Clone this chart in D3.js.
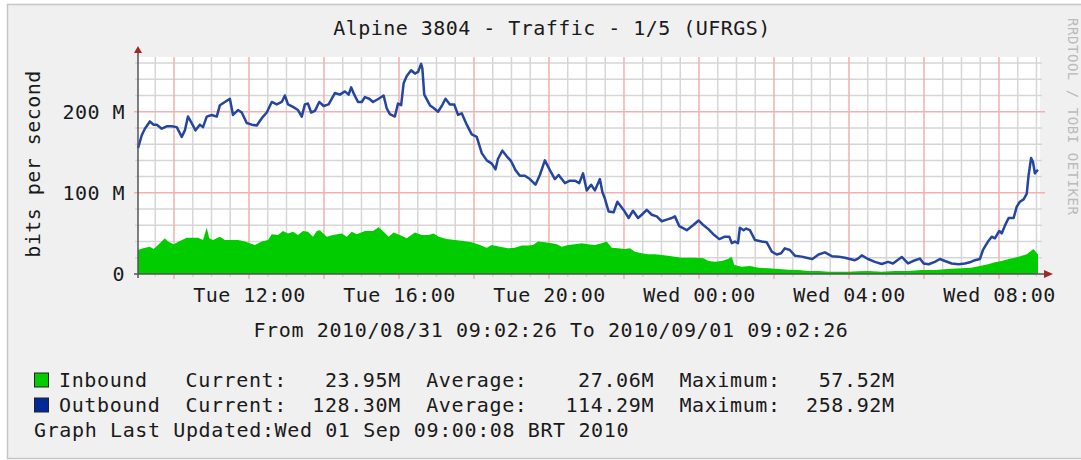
<!DOCTYPE html>
<html>
<head>
<meta charset="utf-8">
<script src="https://cdn.jsdelivr.net/npm/d3@7"></script>
<style>
  body { margin: 0; background: #fff; }
  svg text { font-family: "DejaVu Sans Mono", monospace; }
</style>
</head>
<body>
<div id="chart"></div>
<script>
// Time window of the graph
const startTime = new Date(2010, 7, 31, 9, 2, 26);
const endTime = new Date(2010, 8, 1, 9, 2, 26);

// Inbound (area), minutes after start -> Mbit/s
const inMinutes = [0, 8, 19, 25, 32, 43, 48, 57, 67, 78, 88, 96, 104, 110, 114, 120, 131, 139, 150, 160, 171, 179, 187, 198, 208, 214, 224, 232, 240, 248, 256, 264, 272, 280, 286, 291, 302, 312, 326, 334, 342, 350, 363, 376, 385, 393, 401, 409, 419, 430, 443, 454, 465, 473, 481, 494, 507, 520, 534, 547, 558, 566, 579, 592, 603, 614, 624, 632, 640, 651, 662, 670, 678, 688, 699, 710, 720, 731, 742, 750, 758, 768, 779, 787, 795, 806, 816, 827, 838, 848, 859, 870, 880, 891, 905, 913, 923, 934, 944, 950, 954, 966, 979, 993, 1009, 1025, 1041, 1057, 1073, 1089, 1105, 1121, 1137, 1152, 1168, 1190, 1211, 1232, 1254, 1275, 1296, 1317, 1333, 1347, 1360, 1371, 1382, 1393, 1403, 1414, 1422, 1427, 1433, 1437, 1440];
const inValues = [29.6, 31.6, 33.7, 30.8, 35.7, 44, 40, 36.6, 40.7, 44.8, 44.8, 44.8, 42, 57, 44, 42, 46, 42, 42, 42, 40, 37.8, 35.7, 40, 42, 49, 48, 53, 50, 52, 48, 53, 52, 46, 53, 54, 46, 48, 50, 46, 52, 49, 53, 53, 57.5, 52, 46, 51, 48, 44, 51, 48, 48, 50, 46, 43, 42, 40.7, 39, 35.7, 32.5, 35.7, 33.7, 31.6, 32.5, 35, 35, 35.7, 40, 39, 37.8, 36.6, 33.7, 35.7, 36.6, 37.8, 36.6, 35.7, 37.8, 40, 32.5, 31.6, 30.8, 31.6, 27.5, 25.5, 24.2, 24.2, 23.4, 22.6, 21.4, 20, 20, 20, 19.3, 16, 15, 16, 18.5, 21.4, 11, 9, 10, 7.8, 7, 6.2, 5.3, 4.9, 3.7, 3.7, 2.9, 2.9, 2.9, 3.5, 3.7, 2.9, 3.7, 3.7, 4.9, 4.9, 6.2, 7, 7.8, 10, 12, 14.4, 16, 18.5, 20, 22.6, 24.2, 27.5, 30.8, 26.7, 23.95];

// Outbound (line), minutes after start -> Mbit/s
const outMinutes = [0, 6, 11, 19, 25, 30, 38, 46, 54, 62, 70, 75, 80, 86, 92, 99, 104, 110, 118, 126, 131, 139, 147, 152, 160, 166, 174, 182, 190, 198, 206, 214, 222, 230, 235, 240, 248, 256, 262, 267, 272, 277, 283, 290, 297, 305, 315, 323, 331, 337, 341, 346, 352, 358, 363, 370, 376, 385, 393, 398, 403, 411, 416, 421, 425, 430, 437, 443, 448, 453, 455, 458, 467, 474, 480, 486, 492, 499, 506, 512, 518, 526, 534, 542, 550, 558, 566, 572, 576, 583, 590, 597, 604, 611, 619, 627, 636, 643, 651, 659, 667, 673, 683, 691, 699, 706, 712, 718, 725, 731, 739, 743, 747, 753, 761, 767, 777, 785, 792, 800, 806, 814, 822, 830, 838, 846, 854, 859, 866, 878, 888, 897, 905, 913, 922, 930, 939, 946, 950, 955, 960, 963, 969, 973, 979, 987, 998, 1006, 1014, 1022, 1029, 1035, 1043, 1051, 1062, 1073, 1079, 1089, 1099, 1110, 1121, 1131, 1139, 1147, 1152, 1158, 1168, 1179, 1190, 1200, 1208, 1222, 1232, 1240, 1251, 1257, 1265, 1275, 1283, 1291, 1302, 1313, 1323, 1331, 1339, 1347, 1352, 1360, 1366, 1371, 1378, 1382, 1387, 1393, 1401, 1406, 1411, 1417, 1422, 1425, 1429, 1432, 1435, 1438, 1440];
const outValues = [155, 171, 179, 188, 184, 184, 179, 182, 182, 181, 169, 177, 194, 186, 177, 184, 181, 194, 196, 194, 208, 212, 216, 196, 202, 199, 186, 184, 183, 192, 199, 212, 209, 212, 220, 209, 206, 202, 194, 209, 210, 199, 201, 212, 207, 209, 223, 221, 225, 221, 230, 221, 212, 212, 218, 216, 212, 216, 220, 204, 197, 194, 210, 208, 235, 244, 251, 247, 249, 258.9, 253, 221, 208, 204, 200, 207, 216, 209, 209, 196, 198, 184, 172, 169, 149, 140, 136, 129, 142, 152, 145, 139, 128, 121, 121, 117, 110, 122, 140, 128, 117, 122, 112, 115, 115, 112, 124, 103, 110, 103, 117, 101, 93, 77, 76, 89, 79, 69, 78, 69, 73, 79, 73, 71, 65, 67, 69, 71, 59, 54, 60, 66, 60, 55, 48, 43, 46, 46, 38, 40, 38, 57, 54, 56, 54, 42, 40, 39, 27.5, 24, 25.5, 31.6, 29.6, 22.6, 21.4, 19.3, 18.5, 24, 26.7, 22, 21.4, 20, 18.5, 17, 19, 23, 18.5, 15, 12.3, 15, 13, 21, 13, 16, 19, 13, 12, 15, 18.5, 16, 13, 12, 13, 14.4, 17, 18.5, 29.6, 40, 46, 44, 53, 50, 59.6, 69, 69, 83, 89, 92, 99, 122, 143, 138, 124, 127, 128.3];

// Y axis ticks (Mbit/s) and legend statistics
const yTicks = [0, 100, 200];
const legendNames = ["Inbound", "Outbound"];
const currentVals = [23.95, 128.30];
const averageVals = [27.06, 114.29];
const maximumVals = [57.52, 258.92];

const chartTitle = "Alpine 3804 - Traffic - 1/5 (UFRGS)";
const rangeText = "From 2010/08/31 09:02:26 To 2010/09/01 09:02:26";
const updatedText = "Graph Last Updated:Wed 01 Sep 09:00:08 BRT 2010";

const width = 1081;
const height = 460;
const inColor = "#00cc00";
const outColor = "#24469f";

const svg = d3.select("#chart").append("svg")
    .attr("width", width)
    .attr("height", height);

// canvas frame
svg.append("rect")
    .attr("x", 7.5).attr("y", 4.5)
    .attr("width", 1080).attr("height", 454)
    .attr("fill", "#f0f0f0")
    .attr("stroke", "#c6c6c6")
    .attr("stroke-width", 1.5);

// scales
const x = d3.scaleTime().domain([startTime, endTime]).range([138, 1038]);
const y = d3.scaleLinear().domain([0, 267.4]).range([274, 57]);
const minuteToDate = m => new Date(startTime.getTime() + m * 60000);

// plot background
svg.append("rect")
    .attr("x", 138).attr("y", 57)
    .attr("width", 902).attr("height", 217)
    .attr("fill", "#fff");

const grid = svg.append("g");

// half-hour positions inside the window
const minorX = [];
d3.timeHour.range(d3.timeHour.floor(startTime), endTime).forEach(h => {
    [0, 30].forEach(m => {
        const d = new Date(h.getTime() + m * 60000);
        if (d > startTime && d < endTime && (h.getHours() % 2 !== 0 || m !== 0)) minorX.push(d);
    });
});

// minor grid
grid.selectAll("line.vminor")
    .data(minorX)
    .join("line")
    .attr("class", "vminor")
    .attr("x1", d => x(d)).attr("x2", d => x(d))
    .attr("y1", 57).attr("y2", 277)
    .attr("stroke", "#d6d6d6").attr("stroke-width", 1.5);

const minorY = d3.range(20, 267, 20).filter(v => v % 100 !== 0);
grid.selectAll("line.hminor")
    .data(minorY)
    .join("line")
    .attr("class", "hminor")
    .attr("x1", 135).attr("x2", 1042)
    .attr("y1", d => y(d)).attr("y2", d => y(d))
    .attr("stroke", "#d6d6d6").attr("stroke-width", 1.5);

// major grid
const majorX = d3.timeHour.every(2).range(startTime, endTime);
grid.selectAll("line.vmajor")
    .data(majorX)
    .join("line")
    .attr("class", "vmajor")
    .attr("x1", d => x(d)).attr("x2", d => x(d))
    .attr("y1", 57).attr("y2", 279)
    .attr("stroke", "#f2b0b0").attr("stroke-width", 1.5);

grid.selectAll("line.hmajor")
    .data(yTicks.filter(v => v > 0))
    .join("line")
    .attr("class", "hmajor")
    .attr("x1", 134).attr("x2", 1045)
    .attr("y1", d => y(d)).attr("y2", d => y(d))
    .attr("stroke", "#f2b0b0").attr("stroke-width", 1.5);

// inbound area
const inData = inMinutes.map((m, i) => ({ t: minuteToDate(m), v: inValues[i] }));
svg.append("path")
    .datum(inData)
    .attr("fill", inColor)
    .attr("d", d3.area()
        .x(d => x(d.t))
        .y0(y(0))
        .y1(d => y(d.v)));

// outbound line
const outData = outMinutes.map((m, i) => ({ t: minuteToDate(m), v: outValues[i] }));
svg.append("path")
    .datum(outData)
    .attr("fill", "none")
    .attr("stroke", outColor)
    .attr("stroke-width", 2.5)
    .attr("stroke-linejoin", "round")
    .attr("d", d3.line()
        .x(d => x(d.t))
        .y(d => y(d.v)));

// axis lines with arrows
svg.append("line")
    .attr("x1", 134).attr("x2", 1045)
    .attr("y1", 274).attr("y2", 274)
    .attr("stroke", "#555").attr("stroke-width", 1.5);
svg.append("line")
    .attr("x1", 138).attr("x2", 138)
    .attr("y1", 278).attr("y2", 52)
    .attr("stroke", "#555").attr("stroke-width", 1.5);
svg.append("path")
    .attr("d", "M1044,270 L1053,274 L1044,278 Z")
    .attr("fill", "#9e2a2a");
svg.append("path")
    .attr("d", "M134,53 L138,46 L142,53 Z")
    .attr("fill", "#9e2a2a");

const textStyle = (sel, spacing = 0.46) => sel
    .attr("font-size", "20px")
    .attr("letter-spacing", spacing + "px")
    .attr("fill", "#1a1a1a");

// x axis labels
const xAxis = svg.append("g")
    .attr("transform", "translate(0,274)")
    .call(d3.axisBottom(x)
        .ticks(d3.timeHour.every(4))
        .tickFormat(d3.timeFormat("%a %H:%M"))
        .tickSize(0));
xAxis.select(".domain").remove();
xAxis.selectAll("text")
    .attr("y", 28).attr("dy", null)
    .call(textStyle)
    .attr("font-family", "DejaVu Sans Mono");

// y axis labels
const yAxis = svg.append("g")
    .attr("transform", "translate(138,0)")
    .call(d3.axisLeft(y)
        .tickValues(yTicks)
        .tickFormat(d => d === 0 ? "0" : d + " M")
        .tickSize(0));
yAxis.select(".domain").remove();
yAxis.selectAll("text")
    .attr("x", -13)
    .call(textStyle)
    .attr("font-family", "DejaVu Sans Mono");

// y axis title
svg.append("text")
    .attr("transform", "translate(40,164) rotate(-90)")
    .attr("text-anchor", "middle")
    .call(textStyle)
    .text("bits per second");

// title and time range
svg.append("text")
    .attr("x", 552).attr("y", 35)
    .attr("text-anchor", "middle")
    .call(textStyle)
    .text(chartTitle);

svg.append("text")
    .attr("x", 551).attr("y", 337)
    .attr("text-anchor", "middle")
    .call(textStyle, 0.62)
    .text(rangeText);

// watermark
svg.append("text")
    .attr("transform", "translate(1068,18) rotate(90)")
    .attr("font-size", "14px")
    .attr("letter-spacing", "0.55px")
    .attr("fill", "#bbbbbb")
    .text("RRDTOOL / TOBI OETIKER");

// legend
const fmt = v => v.toFixed(2) + "M";
const legendColors = [inColor, "#002a97"];
legendNames.forEach((name, i) => {
    const rowY = 387 + i * 25;
    svg.append("rect")
        .attr("x", 34.5).attr("y", rowY - 14)
        .attr("width", 14).attr("height", 14)
        .attr("fill", legendColors[i])
        .attr("stroke", "#222").attr("stroke-width", 1);
    const line = name.padEnd(10) + "Current:" + fmt(currentVals[i]).padStart(9)
        + "  Average:" + fmt(averageVals[i]).padStart(10)
        + "  Maximum:" + fmt(maximumVals[i]).padStart(9);
    svg.append("text")
        .attr("x", 59).attr("y", rowY)
        .attr("xml:space", "preserve")
        .style("white-space", "pre")
        .call(textStyle, 0.62)
        .text(line);
});

svg.append("text")
    .attr("x", 34).attr("y", 437)
    .call(textStyle, 0.62)
    .text(updatedText);
</script>
</body>
</html>
